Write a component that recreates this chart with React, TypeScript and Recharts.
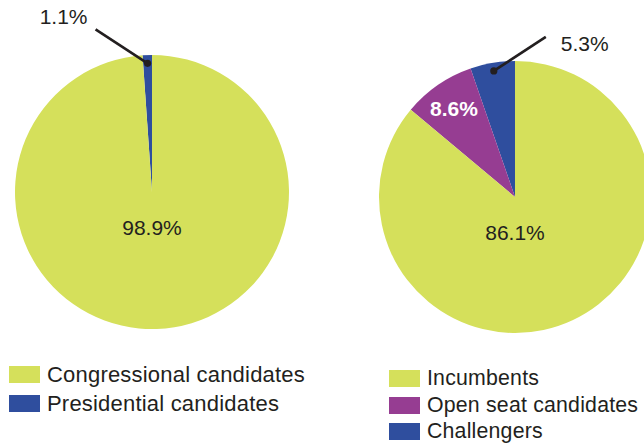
import React from "react";
import { PieChart, Pie, Cell } from "recharts";

// Left pie (pie order, counter-clockwise from top)
const leftCategories = ["Presidential candidates", "Congressional candidates"];
const leftValues = [1.1, 98.9];
const leftColors = ["#2f4e9e", "#d5e05b"];

// Right pie
const rightCategories = ["Challengers", "Open seat candidates", "Incumbents"];
const rightValues = [5.3, 8.6, 86.1];
const rightColors = ["#2f4e9e", "#963d92", "#d5e05b"];

const leftData = leftCategories.map((name, i) => ({ name, value: leftValues[i] }));
const rightData = rightCategories.map((name, i) => ({ name, value: rightValues[i] }));

const FONT = "'Liberation Sans', Arial, Helvetica, sans-serif";
const TEXT = "#231f20";
const RAD = Math.PI / 180;

const makeLabel = (dir: number) => (props: any) => {
  const { cx, cy, midAngle, outerRadius, value } = props;
  const text = `${value}%`;
  const pol = (r: number) => ({
    x: cx + r * Math.cos(-midAngle * RAD),
    y: cy + r * Math.sin(-midAngle * RAD),
  });
  if (value > 50) {
    return (
      <text x={cx} y={cy + 0.26 * outerRadius} textAnchor="middle" dominantBaseline="central"
        fontSize={21} fontFamily={FONT} fill={TEXT}>{text}</text>
    );
  }
  if (value < 6) {
    const d = pol(outerRadius * 0.94);
    const ex = d.x + dir * 52;
    const ey = d.y - 34;
    return (
      <g>
        <line x1={d.x} y1={d.y} x2={ex} y2={ey} stroke={TEXT} strokeWidth={2.6} />
        <circle cx={d.x} cy={d.y} r={3.6} fill={TEXT} />
        {dir < 0 ? (
          <text x={ex - 8} y={ey - 5} textAnchor="end" fontSize={21} fontFamily={FONT} fill={TEXT}>{text}</text>
        ) : (
          <text x={ex + 15} y={ey + 14} textAnchor="start" fontSize={21} fontFamily={FONT} fill={TEXT}>{text}</text>
        )}
      </g>
    );
  }
  const p = pol(outerRadius * 0.79);
  return (
    <text x={p.x} y={p.y} textAnchor="middle" dominantBaseline="central" fontSize={21}
      fontWeight="bold" fontFamily={FONT} fill="#ffffff">{text}</text>
  );
};

const Legend = ({ names, colors, left, top, pitch, fontSize }: any) => (
  <div style={{ position: "absolute", left, top }}>
    {names.map((n: string, i: number) => (
      <div key={n} style={{ position: "absolute", left: 0, top: i * pitch, height: 17, display: "flex", alignItems: "center", whiteSpace: "nowrap" }}>
        <div style={{ width: 31, height: 17, background: colors[i] }} />
        <span style={{ marginLeft: 7, fontFamily: FONT, fontSize, letterSpacing: 0.2, color: TEXT, lineHeight: "17px" }}>{n}</span>
      </div>
    ))}
  </div>
);

export default function App() {
  const rev = <T,>(a: T[]) => a.slice().reverse();
  return (
    <div style={{ position: "absolute", left: 0, top: 0, width: 644, height: 444, overflow: "hidden", background: "#fff" }}>
      <PieChart width={660} height={444} margin={{ top: 0, right: 0, bottom: 0, left: 0 }} style={{ position: "absolute", left: 0, top: 0 }}>
        <Pie data={leftData} dataKey="value" nameKey="name" cx={152} cy={192} outerRadius={137}
          startAngle={90} endAngle={450} stroke="none" labelLine={false} label={makeLabel(-1)}
          isAnimationActive={false}>
          {leftData.map((d, i) => <Cell key={d.name} fill={leftColors[i]} />)}
        </Pie>
        <Pie data={rightData} dataKey="value" nameKey="name" cx={515} cy={197} outerRadius={136}
          startAngle={90} endAngle={450} stroke="none" labelLine={false} label={makeLabel(1)}
          isAnimationActive={false}>
          {rightData.map((d, i) => <Cell key={d.name} fill={rightColors[i]} />)}
        </Pie>
      </PieChart>
      <Legend names={rev(leftCategories)} colors={rev(leftColors)} left={9} top={366} pitch={29} fontSize={22} />
      <Legend names={rev(rightCategories)} colors={rev(rightColors)} left={389} top={370} pitch={26.5} fontSize={21.3} />
    </div>
  );
}
